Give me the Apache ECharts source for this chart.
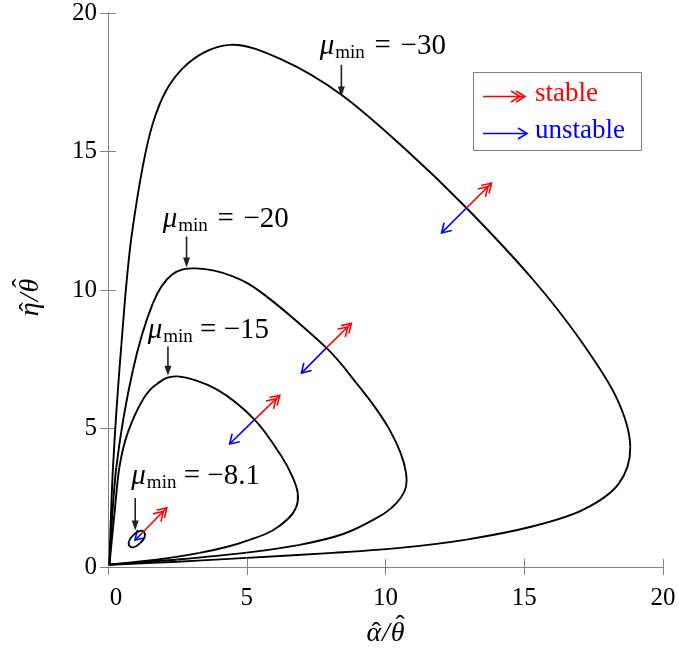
<!DOCTYPE html>
<html>
<head>
<meta charset="utf-8">
<script src="https://cdn.jsdelivr.net/npm/echarts/dist/echarts.min.js"></script>
<style>html,body{margin:0;padding:0;background:#fff}#c{width:679px;height:653px}</style>
</head>
<body>
<div id="c"></div>
<script>
// ---- axis ----
const axisMin = 0, axisMax = 20, axisStep = 5;

// ---- curves (x = alpha/theta, y = eta/theta) ----
const curveMu30 = [[0.05,0.08],[0.18,3.6],[0.48,8.0],[0.87,12.1],[1.62,16.03],[2.7,18.01],[4.38,18.85],[6.3,18.3],[8.41,17.05],[10.7,15.1],[12.92,12.96],[15.32,10.37],[17.0,8.22],[18.33,6.1],[18.82,4.35],[18.4,3.0],[17.13,2.07],[15.32,1.47],[12.92,0.99],[10.52,0.69],[8.11,0.51],[5.0,0.33],[2.5,0.19],[0.05,0.08]];
const curveMu20 = [[0.05,0.08],[0.3,3.6],[0.9,7.12],[1.62,9.53],[2.3,10.55],[3.18,10.78],[4.5,10.49],[5.71,9.77],[7.87,7.91],[8.95,6.64],[9.6,5.8],[10.15,4.95],[10.55,4.1],[10.74,3.4],[10.74,2.9],[10.55,2.5],[10.2,2.12],[9.7,1.78],[8.5,1.2],[6.91,0.8],[5.0,0.52],[2.5,0.27],[0.05,0.08]];
const curveMu15 = [[0.05,0.08],[0.23,1.9],[0.41,3.6],[0.71,4.84],[1.26,6.05],[1.75,6.6],[2.5,6.88],[3.9,6.42],[5.28,5.32],[6.25,4.0],[6.65,3.25],[6.84,2.65],[6.78,2.15],[6.5,1.75],[5.9,1.3],[5.1,0.98],[4.3,0.73],[3.3,0.51],[1.8,0.27],[0.05,0.08]];
const curveMu8 = [[1.3,1.26],[1.14,1.3],[0.92,1.16],[0.76,0.93],[0.78,0.75],[0.94,0.72],[1.16,0.86],[1.32,1.08],[1.3,1.26]];

// ---- stability arrows: [x crossing, y crossing, x tip, y tip] ----
const stableArrows = [[12.92,12.96,13.82,13.86],[7.87,7.91,8.77,8.8],[5.28,5.32,6.19,6.2],[1.22,1.22,2.12,2.14]];
const unstableArrows = [[12.92,12.96,12.02,12.06],[7.87,7.91,6.97,7.0],[5.28,5.32,4.38,4.44],[1.22,1.22,0.97,0.97]];

// ---- curve annotations ----
const muValues = ['−30', '−20', '−15', '−8.1'];
const muSeparators = ['\u2004=\u2004', '\u2004=\u2004', '\u2005=\u2005', '\u2005=\u2005'];
const labelPos = [[7.63,18.79],[1.97,12.54],[1.43,8.53],[0.84,3.26]];
const pointerArrows = [[8.41,18.13,16.99],[2.83,11.93,10.81],[2.16,7.96,6.9],[0.98,2.49,1.32]];

const legendNames = ['stable', 'unstable'];
const legendColors = ['#ff0000', '#0000ff'];
const xTitleParts = [{t: 'α', hat: true, lift: 0}, {t: '/', hat: false}, {t: 'θ', hat: true, lift: 7}];
const yTitleParts = [{t: 'η', hat: true, lift: 0}, {t: '/', hat: false}, {t: 'θ', hat: true, lift: 7}];

const serif = "'Liberation Serif', 'DejaVu Serif', serif";
const axisGray = '#808080';

// Smooth curve through the traced points (Catmull-Rom segments in pixel space)
function curveRender(points, closed) {
  const n = points.length;
  return function (params, api) {
    const i = params.dataIndex;
    if (i >= n - 1) return null;
    const P = k => {
      if (closed) { k = ((k % (n - 1)) + (n - 1)) % (n - 1); }
      else { k = Math.max(0, Math.min(n - 1, k)); }
      return api.coord(points[k]);
    };
    const p0 = P(i - 1), p1 = P(i), p2 = P(i + 1), p3 = P(i + 2);
    return {
      type: 'bezierCurve',
      shape: {
        x1: p1[0], y1: p1[1], x2: p2[0], y2: p2[1],
        cpx1: p1[0] + (p2[0] - p0[0]) / 6, cpy1: p1[1] + (p2[1] - p0[1]) / 6,
        cpx2: p2[0] - (p3[0] - p1[0]) / 6, cpy2: p2[1] - (p3[1] - p1[1]) / 6
      },
      style: {stroke: '#000', lineWidth: 1.9, fill: 'none'}
    };
  };
}

function arrowRender(color, heads) {
  return function (params, api) {
    const a = api.coord([api.value(0), api.value(1)]);
    const b = api.coord([api.value(2), api.value(3)]);
    const dx = b[0] - a[0], dy = b[1] - a[1];
    const L = Math.hypot(dx, dy) || 1;
    const ux = dx / L, uy = dy / L;
    const children = [{type: 'line', shape: {x1: a[0], y1: a[1], x2: b[0], y2: b[1]}, style: {stroke: color, lineWidth: 1.6}}];
    const hl = 9, hw = 5.5;
    for (let k = 0; k < heads; k++) {
      const tx = b[0] - ux * k * 5, ty = b[1] - uy * k * 5;
      children.push({type: 'polyline', shape: {points: [
        [tx - ux * hl - uy * hw, ty - uy * hl + ux * hw], [tx, ty], [tx - ux * hl + uy * hw, ty - uy * hl - ux * hw]
      ]}, style: {stroke: color, fill: 'none', lineWidth: 1.6}});
    }
    return {type: 'group', children};
  };
}

function legendArrow(x1, x2, y, color, heads) {
  const ch = [{type: 'line', shape: {x1, y1: y, x2, y2: y}, style: {stroke: color, lineWidth: 1.6}}];
  for (let k = 0; k < heads; k++) {
    const tx = x2 - k * 5;
    ch.push({type: 'polyline', shape: {points: [[tx - 9, y - 5.5], [tx, y], [tx - 9, y + 5.5]]}, style: {stroke: color, fill: 'none', lineWidth: 1.6}});
  }
  return ch;
}

function hatTitle(parts, fontSize) {
  const ctx = document.createElement('canvas').getContext('2d');
  const font = "italic " + fontSize + "px 'Liberation Serif'";
  const hatFont = fontSize + "px 'Liberation Serif'";
  ctx.font = font;
  const widths = parts.map(p => ctx.measureText(p.t).width + 1);
  const total = widths.reduce((a, b) => a + b, 0);
  let x = -total / 2;
  const ch = [];
  parts.forEach((p, i) => {
    ch.push({type: 'text', x: x, y: 0, style: {text: p.t, font: font, fill: '#000', align: 'left', verticalAlign: 'middle'}});
    if (p.hat) ch.push({type: 'text', x: x + widths[i] / 2 + 2, y: -p.lift, style: {text: 'ˆ', font: hatFont, fill: '#000', align: 'center', verticalAlign: 'middle'}});
    x += widths[i];
  });
  return ch;
}

const curveSeries = [[curveMu30, false], [curveMu20, false], [curveMu15, false], [curveMu8, true]].map(([d, closed]) => ({
  type: 'custom', data: d, renderItem: curveRender(d, closed), silent: true, z: 3, clip: false
}));

const labelData = labelPos.map((p, i) => [p[0], p[1], i]);

const option = {
  animation: false,
  backgroundColor: '#fff',
  grid: {left: 108, right: 16, top: 13, bottom: 86},
  xAxis: [{
    type: 'value', min: axisMin, max: axisMax, interval: axisStep, position: 'bottom',
    axisLine: {show: true, lineStyle: {color: axisGray, width: 1}},
    axisTick: {show: true, inside: true, length: 8, lineStyle: {color: axisGray}},
    splitLine: {show: false},
    axisLabel: {color: '#000', fontFamily: serif, fontSize: 25, margin: 19,
      formatter: v => v === 0 ? '{z|0}' : String(v),
      rich: {z: {padding: [0, 0, 0, 16], fontFamily: serif, fontSize: 25, color: '#000'}}}
  }, {
    type: 'value', min: axisMin, max: axisMax, interval: axisStep, position: 'top',
    axisLine: {show: true, lineStyle: {color: axisGray, width: 1}},
    axisTick: {show: true, inside: true, length: 8, lineStyle: {color: axisGray}},
    axisLabel: {show: false}, splitLine: {show: false}
  }],
  yAxis: [{
    type: 'value', min: axisMin, max: axisMax, interval: axisStep, position: 'left',
    axisLine: {show: true, lineStyle: {color: axisGray, width: 1}},
    axisTick: {show: true, inside: true, length: 8, lineStyle: {color: axisGray}},
    splitLine: {show: false},
    axisLabel: {color: '#000', fontFamily: serif, fontSize: 25, margin: 11}
  }, {
    type: 'value', min: axisMin, max: axisMax, interval: axisStep, position: 'right',
    axisLine: {show: true, lineStyle: {color: axisGray, width: 1}},
    axisTick: {show: true, inside: true, length: 8, lineStyle: {color: axisGray}},
    axisLabel: {show: false}, splitLine: {show: false}
  }],
  series: curveSeries.concat([
    {type: 'custom', data: stableArrows, renderItem: arrowRender('#ff0000', 2), z: 5, silent: true, clip: false},
    {type: 'custom', data: unstableArrows, renderItem: arrowRender('#0000ff', 1), z: 5, silent: true, clip: false},
    {type: 'custom', data: pointerArrows, silent: true, z: 6, clip: false,
      renderItem: function (params, api) {
        const top = api.coord([api.value(0), api.value(1)]);
        const tip = api.coord([api.value(0), api.value(2)]);
        return {type: 'group', children: [
          {type: 'line', shape: {x1: top[0], y1: top[1], x2: tip[0], y2: tip[1] - 8}, style: {stroke: '#231f20', lineWidth: 1.6}},
          {type: 'polygon', shape: {points: [[tip[0] - 3.5, tip[1] - 10], [tip[0] + 3.5, tip[1] - 10], [tip[0], tip[1]]]}, style: {fill: '#231f20'}}
        ]};
      }},
    {type: 'custom', data: labelData, silent: true, z: 6, clip: false,
      renderItem: function (params, api) {
        const p = api.coord([api.value(0), api.value(1)]);
        const i = api.value(2);
        return {type: 'text', x: p[0], y: p[1], style: {
          text: '{m|μ}{s|min}{e|' + muSeparators[i] + muValues[i] + '}',
          align: 'left', verticalAlign: 'middle',
          rich: {
            m: {fontFamily: serif, fontStyle: 'italic', fontSize: 29, fill: '#000', lineHeight: 30, verticalAlign: 'middle'},
            s: {fontFamily: serif, fontSize: 19, fill: '#000', lineHeight: 30, padding: [12, 0, 0, 1], verticalAlign: 'middle'},
            e: {fontFamily: serif, fontSize: 29, fill: '#000', lineHeight: 30, verticalAlign: 'middle'}
          }
        }};
      }}
  ]),
  graphic: [{
    type: 'group', left: 473, top: 72, z: 10,
    children: [
      {type: 'rect', shape: {x: 0.5, y: 0.5, width: 168, height: 78}, style: {fill: '#fff', stroke: axisGray, lineWidth: 1}},
      ...legendArrow(10, 52, 24.5, legendColors[0], 2),
      {type: 'text', x: 62, y: 22, style: {text: legendNames[0], fill: legendColors[0], font: "27px 'Liberation Serif'", verticalAlign: 'middle', align: 'left'}},
      ...legendArrow(10, 54, 61.5, legendColors[1], 1),
      {type: 'text', x: 62, y: 59, style: {text: legendNames[1], fill: legendColors[1], font: "27px 'Liberation Serif'", verticalAlign: 'middle', align: 'left'}}
    ]
  }, {
    type: 'group', x: 386, y: 634, z: 10, children: hatTitle(xTitleParts, 28)
  }, {
    type: 'group', x: 31, y: 297, rotation: Math.PI / 2, z: 10, children: hatTitle(yTitleParts, 28)
  }]
};

const chart = echarts.init(document.getElementById('c'), null, {renderer: 'canvas'});
chart.setOption(option);
</script>
</body>
</html>
